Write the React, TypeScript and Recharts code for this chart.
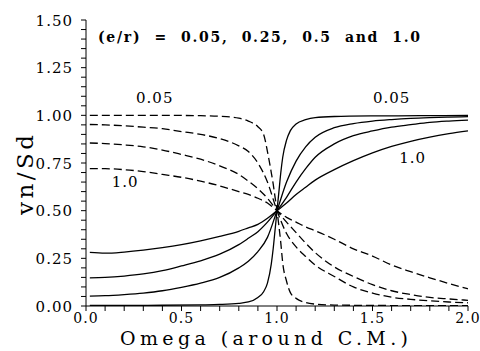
import React from 'react';
import { LineChart, Line, XAxis, YAxis, ReferenceDot } from 'recharts';

// omega grids the curves were read on
const omegaWide = [0.02, 0.1, 0.2, 0.3, 0.4, 0.5, 0.6, 0.7, 0.8, 0.85, 0.9, 0.95, 1.0, 1.05, 1.1, 1.15, 1.2, 1.3, 1.4, 1.5, 1.6, 1.7, 1.8, 1.9, 2.0];
const omegaSharp = [0.02, 0.2, 0.4, 0.6, 0.7, 0.8, 0.85, 0.9, 0.93, 0.95, 0.97, 0.98, 0.99, 1.0, 1.01, 1.02, 1.03, 1.05, 1.07, 1.1, 1.15, 1.2, 1.3, 1.5, 1.75, 2.0];

// e/r = 0.05 (on omegaSharp)
const solid005 = [0.003, 0.003, 0.004, 0.006, 0.008, 0.014, 0.021, 0.045, 0.075, 0.12, 0.22, 0.3, 0.4, 0.5, 0.6, 0.7, 0.78, 0.87, 0.92, 0.955, 0.977, 0.988, 0.994, 0.997, 0.998, 0.999];
const dashed005 = [1.0, 1.0, 1.0, 0.998, 0.995, 0.985, 0.97, 0.94, 0.9, 0.81, 0.7, 0.64, 0.57, 0.5, 0.42, 0.33, 0.225, 0.13, 0.07, 0.04, 0.018, 0.01, 0.005, 0.003, 0.002, 0.002];

// e/r = 0.25, 0.5, 1.0 (on omegaWide)
const solid025 = [0.052, 0.054, 0.06, 0.068, 0.08, 0.098, 0.12, 0.15, 0.2, 0.235, 0.285, 0.36, 0.5, 0.65, 0.76, 0.835, 0.885, 0.935, 0.957, 0.97, 0.978, 0.984, 0.988, 0.991, 0.993];
const dashed025 = [0.952, 0.95, 0.945, 0.938, 0.93, 0.915, 0.9, 0.878, 0.84, 0.81, 0.75, 0.65, 0.5, 0.38, 0.31, 0.26, 0.215, 0.155, 0.1, 0.068, 0.046, 0.035, 0.027, 0.021, 0.017];
const solid05 = [0.148, 0.15, 0.157, 0.168, 0.185, 0.21, 0.237, 0.272, 0.322, 0.355, 0.39, 0.44, 0.5, 0.57, 0.65, 0.72, 0.78, 0.85, 0.893, 0.918, 0.938, 0.951, 0.963, 0.97, 0.975];
const dashed05 = [0.855, 0.852, 0.845, 0.835, 0.818, 0.795, 0.77, 0.735, 0.69, 0.655, 0.615, 0.565, 0.5, 0.44, 0.385, 0.33, 0.28, 0.205, 0.155, 0.112, 0.08, 0.06, 0.045, 0.037, 0.03];
const solid10 = [0.281, 0.277, 0.283, 0.293, 0.306, 0.322, 0.342, 0.365, 0.392, 0.41, 0.428, 0.46, 0.5, 0.54, 0.585, 0.623, 0.66, 0.715, 0.762, 0.803, 0.837, 0.864, 0.886, 0.904, 0.919];
const dashed10 = [0.72, 0.72, 0.715, 0.705, 0.69, 0.675, 0.655, 0.63, 0.6, 0.585, 0.565, 0.54, 0.5, 0.465, 0.44, 0.415, 0.395, 0.35, 0.3, 0.262, 0.215, 0.18, 0.148, 0.118, 0.09];

const xTicks = [0, 0.1, 0.2, 0.3, 0.4, 0.5, 0.6, 0.7, 0.8, 0.9, 1.0, 1.1, 1.2, 1.3, 1.4, 1.5, 1.6, 1.7, 1.8, 1.9, 2.0];
const yTicks = [0, 0.05, 0.1, 0.15, 0.2, 0.25, 0.3, 0.35, 0.4, 0.45, 0.5, 0.55, 0.6, 0.65, 0.7, 0.75, 0.8, 0.85, 0.9, 0.95, 1.0, 1.05, 1.1, 1.15, 1.2, 1.25, 1.3, 1.35, 1.4, 1.45, 1.5];

const titleText = '(e/r)  =  0.05,  0.25,  0.5  and  1.0';

const serif = '"DejaVu Serif", "Liberation Serif", serif';

const toPoints = (omega: number[], values: number[]) => omega.map((x, i) => ({ x, y: values[i] }));

const series = [
  { key: 's005', data: toPoints(omegaSharp, solid005), dashed: false },
  { key: 'd005', data: toPoints(omegaSharp, dashed005), dashed: true },
  { key: 's025', data: toPoints(omegaWide, solid025), dashed: false },
  { key: 'd025', data: toPoints(omegaWide, dashed025), dashed: true },
  { key: 's05', data: toPoints(omegaWide, solid05), dashed: false },
  { key: 'd05', data: toPoints(omegaWide, dashed05), dashed: true },
  { key: 's10', data: toPoints(omegaWide, solid10), dashed: false },
  { key: 'd10', data: toPoints(omegaWide, dashed10), dashed: true },
];

// curve labels, placed in data coordinates
const curveLabels = [
  { text: '0.05', x: 0.36, y: 1.065 },
  { text: '1.0', x: 0.205, y: 0.625 },
  { text: '0.05', x: 1.6, y: 1.065 },
  { text: '1.0', x: 1.71, y: 0.75 },
];

const YTick = ({ x, y, payload }: any) => {
  const v = payload.value;
  if (Math.round(v * 100) % 25 !== 0) return <g />;
  return (
    <text x={x} y={y + 5.5} textAnchor="end" fontFamily={serif} fontSize={15} letterSpacing={1} fill="#000">
      {v.toFixed(2)}
    </text>
  );
};

const XTick = ({ x, y, payload }: any) => {
  const v = payload.value;
  if (Math.round(v * 10) % 5 !== 0) return <g />;
  return (
    <text x={x} y={y + 10} textAnchor="middle" fontFamily={serif} fontSize={14} letterSpacing={1} fill="#000">
      {v.toFixed(1)}
    </text>
  );
};

const XTitle = ({ viewBox }: any) => (
  <text x={viewBox.x + viewBox.width / 2 - 13} y={viewBox.y + 39} textAnchor="middle" fontFamily={serif} fontSize={19}
    textLength={288} lengthAdjust="spacing" fill="#000">
    Omega (around C.M.)
  </text>
);

const YTitle = ({ viewBox }: any) => {
  const cx = 33;
  const cy = viewBox.y + viewBox.height / 2 + 12;
  return (
    <text x={cx} y={cy} transform={`rotate(-90, ${cx}, ${cy})`} textAnchor="middle" fontFamily={serif} fontSize={23}
      textLength={80} lengthAdjust="spacing" fill="#000">
      vn/Sd
    </text>
  );
};

export default function App() {
  return (
    <div style={{ width: 480, height: 351, background: '#fff' }}>
      <style>{'body { margin: 0; }'}</style>
      <LineChart width={480} height={351} margin={{ top: 20, right: 12, left: 0, bottom: 0 }}>
        <XAxis
          dataKey="x"
          type="number"
          domain={[0, 2]}
          ticks={xTicks}
          interval={0}
          height={45}
          stroke="#000"
          tickSize={5}
          tickMargin={2}
          tick={<XTick />}
          label={<XTitle />}
          allowDataOverflow
        />
        <YAxis
          dataKey="y"
          type="number"
          domain={[0, 1.5]}
          ticks={yTicks}
          interval={0}
          width={86}
          stroke="#000"
          tickSize={5}
          tickMargin={8}
          tick={<YTick />}
          label={<YTitle />}
          allowDataOverflow
        />
        {series.map((s) => (
          <Line
            key={s.key}
            data={s.data}
            dataKey="y"
            type="monotone"
            stroke="#000"
            strokeWidth={1.3}
            strokeDasharray={s.dashed ? '8 4' : undefined}
            dot={false}
            activeDot={false}
            isAnimationActive={false}
          />
        ))}
        <ReferenceDot
          x={0.063}
          y={1.384}
          r={0}
          shape={(p: any) => (
            <text x={p.cx} y={p.cy} fontFamily={serif} fontWeight="bold" fontSize={14} textLength={322}
              lengthAdjust="spacing" fill="#000" style={{ whiteSpace: 'pre' }}>
              {titleText}
            </text>
          )}
        />
        {curveLabels.map((l, i) => (
          <ReferenceDot
            key={i}
            x={l.x}
            y={l.y}
            r={0}
            shape={(p: any) => (
              <text x={p.cx} y={p.cy} textAnchor="middle" fontFamily={serif} fontSize={15} letterSpacing={1} fill="#000">
                {l.text}
              </text>
            )}
          />
        ))}
      </LineChart>
    </div>
  );
}
